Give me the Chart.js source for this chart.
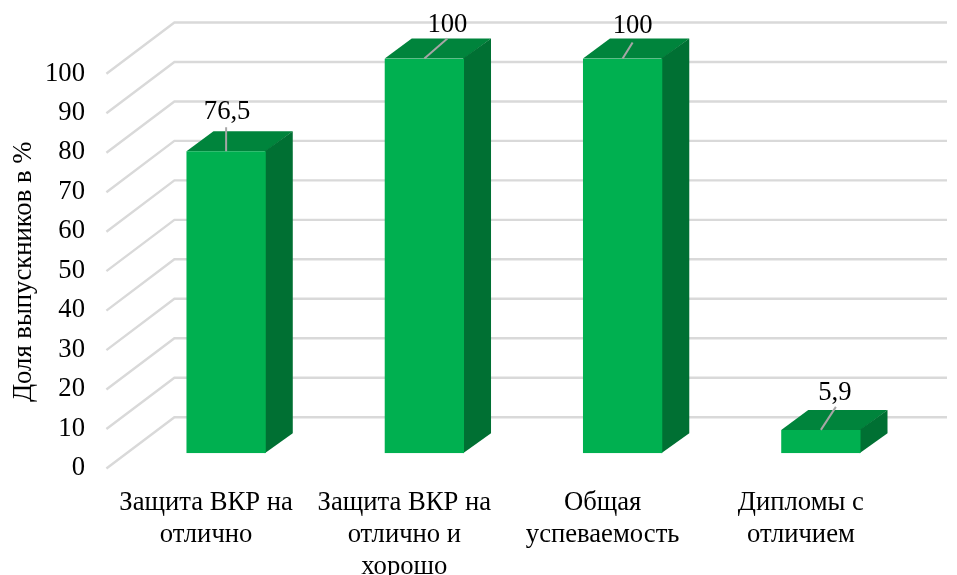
<!DOCTYPE html>
<html><head><meta charset="utf-8">
<style>html,body{margin:0;padding:0;background:#fff}canvas{display:block}</style>
<script src="https://cdn.jsdelivr.net/npm/chart.js@4"></script>
</head><body><canvas id="c" width="957" height="575"></canvas>
<script>
const categories = [["Защита ВКР на","отлично"],["Защита ВКР на","отлично и","хорошо"],["Общая","успеваемость"],["Дипломы с","отличием"]];
const values = [76.5,100,100,5.9];
const valueLabels = ["76,5","100","100","5,9"];
const yTicks = [0,10,20,30,40,50,60,70,80,90,100];

const FONT = '"Liberation Serif"';
const SIZE = 26.67;
const depth = {dx:27, dy:-20};      // bar depth
const front = {dx:-20.6, dy:15.3};  // floor front edge relative to bar face
const back  = {dx:47.4, dy:-36};    // back wall relative to bar face
const leaders = [{dx:0,dy:-24,tx:1,ty:-39},{dx:23,dy:-20,tx:23,ty:-34},{dx:10,dy:-16,tx:10,ty:-33},{dx:15,dy:-23,tx:14,ty:-37}];
const titleShift = 16;

const threeD = {
  id:'threeD',
  beforeDatasetsDraw(chart){
    const {ctx,chartArea:a,scales:{y}} = chart;
    ctx.save();
    ctx.strokeStyle='#D9D9D9'; ctx.lineWidth=2.4; ctx.lineJoin='miter';
    yTicks.forEach(v=>{
      const p=y.getPixelForValue(v);
      ctx.beginPath();
      ctx.moveTo(a.left+front.dx,p+front.dy);
      ctx.lineTo(a.left+back.dx,p+back.dy);
      ctx.lineTo(a.right+depth.dx,p+back.dy);
      ctx.stroke();
    });
    chart.getDatasetMeta(0).data.forEach(b=>{
      const w=b.width/2, l=b.x-w, r=b.x+w, t=b.y, bot=b.base;
      ctx.fillStyle='#00843C';
      ctx.beginPath();ctx.moveTo(l,t);ctx.lineTo(l+depth.dx,t+depth.dy);ctx.lineTo(r+depth.dx,t+depth.dy);ctx.lineTo(r,t);ctx.closePath();ctx.fill();
      ctx.fillStyle='#007033';
      ctx.beginPath();ctx.moveTo(r-1,t);ctx.lineTo(r+depth.dx,t+depth.dy);ctx.lineTo(r+depth.dx,bot+depth.dy);ctx.lineTo(r-1,bot);ctx.closePath();ctx.fill();
    });
    ctx.restore();
  },
  afterDatasetsDraw(chart){
    const {ctx} = chart;
    ctx.save();
    chart.getDatasetMeta(0).data.forEach((b,i)=>{
      const L=leaders[i];
      ctx.strokeStyle='#A6A6A6';ctx.lineWidth=2;
      ctx.beginPath();ctx.moveTo(b.x,b.y);ctx.lineTo(b.x+L.dx,b.y+L.dy);ctx.stroke();
      ctx.fillStyle='#000';ctx.font=SIZE+'px '+FONT;ctx.textAlign='center';ctx.textBaseline='middle';
      ctx.fillText(valueLabels[i],b.x+L.tx,b.y+L.ty);
    });
    ctx.restore();
  }
};

new Chart(document.getElementById('c'),{
  type:'bar',
  data:{labels:categories,datasets:[{data:values,backgroundColor:'#00B050',borderWidth:0,barPercentage:0.4,categoryPercentage:1}]},
  options:{
    responsive:false,animation:false,
    layout:{padding:{top:58.5,right:37,left:0,bottom:0}},
    plugins:{legend:{display:false},tooltip:{enabled:false}},
    scales:{
      x:{
        grid:{display:false},border:{display:false},
        afterFit(s){s.height=121.8;},
        ticks:{color:'#000',font:{family:FONT,size:SIZE,lineHeight:1.19},labelOffset:-20,padding:26,maxRotation:0,minRotation:0,autoSkip:false}
      },
      y:{
        min:0,max:100,
        grid:{display:false},border:{display:false},
        afterBuildTicks(s){s.ticks=yTicks.map(v=>({value:v}));},
        afterFit(s){
          s.width=127;
          if(!s.titleShifted){
            s.titleShifted=true;
            const draw=s.drawTitle;
            s.drawTitle=function(){const c=this.ctx;c.save();c.translate(0,titleShift);draw.call(this);c.restore();};
          }
        },
        ticks:{color:'#000',font:{family:FONT,size:SIZE},labelOffset:15,padding:34},
        title:{display:true,text:'Доля выпускников в %',color:'#000',font:{family:FONT,size:SIZE},padding:{top:8,bottom:0}}
      }
    }
  },
  plugins:[threeD]
});
</script></body></html>
